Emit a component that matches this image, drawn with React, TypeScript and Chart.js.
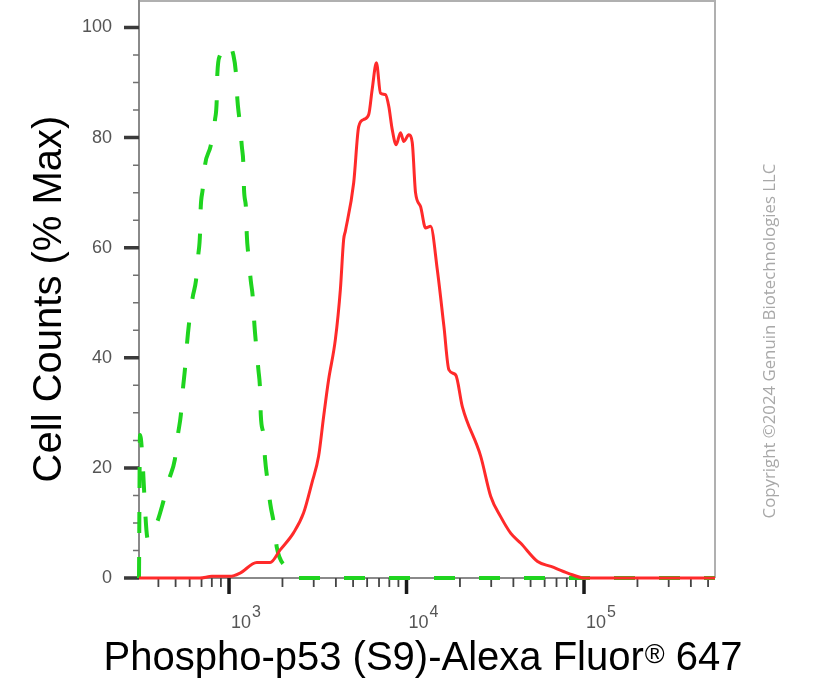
import React, { useEffect, useRef } from 'react';
import { Chart, registerables } from 'chart.js';

Chart.register(...registerables);

// ---- data ----
const redX = [311, 686, 800, 1013, 1154, 1434, 1705, 1941, 2308, 2629, 2932, 3196, 3411, 3639, 3972, 4239, 4424, 4523, 5039, 5377, 5739, 6124, 6401, 6768, 7131, 7611, 7943, 8304, 8746, 9250, 9655, 10304, 10770, 11240, 11995, 12802, 13665, 14910, 16246, 17338, 18915, 20640, 26185, 29826, 33960, 38700, 44060, 54750, 65100, 80900, 100400, 547000];
const redY = [0, 0, 0.3, 0.3, 0.9, 2.8, 2.8, 5.1, 8.2, 11.8, 17.3, 22.1, 29.3, 36, 43.3, 52.4, 61.5, 63, 71.8, 82, 83.3, 84.2, 88.7, 93.6, 88.1, 87.8, 85.7, 81.5, 78.7, 80.9, 79.3, 80.5, 79.1, 70, 67.5, 63.6, 63.9, 56, 45.7, 37.8, 36.9, 31.1, 22.1, 14.8, 11.1, 8.1, 6.3, 3, 2.1, 0.9, 0, 0];

const greenX = [311, 315, 349, 392, 424, 458, 495, 515, 535, 550, 564, 579, 594, 624, 651, 671, 686, 692, 710, 732, 788, 834, 852, 859, 890, 975, 1058, 1095, 1114, 1144, 1180, 1205, 1215, 1247, 1259, 1285, 1326, 1361, 1390, 1420, 1464, 1496, 1510, 1563, 1597, 1646, 1705, 1796, 1860, 2099, 2270, 547000];
const greenY = [0, 26, 7, 10, 13.6, 17.8, 21.5, 26, 29.6, 34.4, 37.8, 42.4, 46, 51, 54, 58.7, 62.4, 67, 70.5, 75, 78.5, 83.3, 86.6, 91.5, 95, 97, 95, 91.5, 87, 83.3, 78.5, 75, 70.5, 67, 62.4, 58.7, 54, 51, 46, 42.4, 37.8, 34.2, 29.6, 26, 21.5, 17.8, 13.6, 9.6, 5.5, 1.8, 0, 0];

// ---- axes ----
const X_MIN = 311;
const X_MAX = 547000;
const Y_MIN = 0;
const Y_MAX = 105;
const yMajorTicks = [0, 20, 40, 60, 80, 100];
const yMinorTicks = [5, 10, 15, 25, 30, 35, 45, 50, 55, 65, 70, 75, 85, 90, 95];
const xMajorTicks = [1000, 10000, 100000];
const xMajorBase = ['10', '10', '10'];
const xMajorExp = ['3', '4', '5'];
const xMinorTicks = [400, 500, 600, 700, 800, 900, 2000, 3000, 4000, 5000, 6000, 7000, 8000, 9000, 20000, 30000, 40000, 50000, 60000, 70000, 80000, 90000, 200000, 300000, 400000, 500000];

// ---- texts ----
const xTitleMain = 'Phospho-p53 (S9)-Alexa Fluor';
const xTitleMark = '®';
const xTitleEnd = ' 647';
const yTitle = 'Cell Counts (% Max)';
const copyrightText = 'Copyright ©2024 Genuin Biotechnologies LLC';

const FONT = '"Liberation Sans", Arial, Helvetica, sans-serif';

const decorPlugin = {
  id: 'flowDecor',
  beforeDatasetsDraw(chart: any) {
    const { ctx, chartArea: a } = chart;
    const xs = chart.scales.x;
    const ys = chart.scales.y;
    ctx.save();
    ctx.lineCap = 'butt';
    // frame top & right
    ctx.strokeStyle = '#b0b0b0';
    ctx.lineWidth = 2;
    ctx.beginPath();
    ctx.moveTo(a.left, a.top + 1);
    ctx.lineTo(a.right, a.top + 1);
    ctx.moveTo(a.right, a.top);
    ctx.lineTo(a.right, a.bottom);
    ctx.stroke();
    // axis lines
    ctx.strokeStyle = '#8a8a8a';
    ctx.beginPath();
    ctx.moveTo(a.left, a.top);
    ctx.lineTo(a.left, a.bottom);
    ctx.lineTo(a.right, a.bottom);
    ctx.stroke();
    // y ticks
    ctx.strokeStyle = '#707070';
    ctx.lineWidth = 1.5;
    ctx.beginPath();
    yMinorTicks.forEach((v) => {
      const p = ys.getPixelForValue(v);
      ctx.moveTo(a.left - 6, p);
      ctx.lineTo(a.left, p);
    });
    ctx.stroke();
    ctx.strokeStyle = '#3a3a3a';
    ctx.lineWidth = 3.5;
    ctx.beginPath();
    yMajorTicks.forEach((v) => {
      const p = ys.getPixelForValue(v);
      ctx.moveTo(a.left - 15, p);
      ctx.lineTo(a.left, p);
    });
    ctx.stroke();
    // x ticks
    ctx.strokeStyle = '#444';
    ctx.lineWidth = 1.8;
    ctx.beginPath();
    xMinorTicks.forEach((v) => {
      const p = xs.getPixelForValue(v);
      ctx.moveTo(p, a.bottom);
      ctx.lineTo(p, a.bottom + 9);
    });
    ctx.stroke();
    ctx.strokeStyle = '#1a1a1a';
    ctx.lineWidth = 3.5;
    ctx.beginPath();
    xMajorTicks.forEach((v) => {
      const p = xs.getPixelForValue(v);
      ctx.moveTo(p, a.bottom);
      ctx.lineTo(p, a.bottom + 16);
    });
    ctx.stroke();
    ctx.restore();
  },
  afterDraw(chart: any) {
    const { ctx, chartArea: a } = chart;
    const xs = chart.scales.x;
    ctx.save();
    // x tick labels 10^n
    ctx.fillStyle = '#555';
    ctx.textAlign = 'left';
    ctx.textBaseline = 'alphabetic';
    xMajorTicks.forEach((v, i) => {
      const p = xs.getPixelForValue(v) + 2;
      ctx.font = `18px ${FONT}`;
      ctx.fillText(xMajorBase[i], p, a.bottom + 50);
      const w = ctx.measureText(xMajorBase[i]).width;
      ctx.font = `16px ${FONT}`;
      ctx.fillText(xMajorExp[i], p + w + 1, a.bottom + 39);
    });
    // x title
    ctx.fillStyle = '#000';
    const big = `40px ${FONT}`;
    const small = `27px ${FONT}`;
    ctx.font = big;
    const w1 = ctx.measureText(xTitleMain).width;
    const w3 = ctx.measureText(xTitleEnd).width;
    ctx.font = small;
    const w2 = ctx.measureText(xTitleMark).width;
    const total = w1 + w2 + 1 + w3;
    let sx = 423 - total / 2;
    const base = a.bottom + 92;
    ctx.font = big;
    ctx.fillText(xTitleMain, sx, base);
    sx += w1 + 1;
    ctx.font = small;
    ctx.fillText(xTitleMark, sx, base - 7);
    sx += w2;
    ctx.font = big;
    ctx.fillText(xTitleEnd, sx, base);
    // y title
    ctx.save();
    ctx.translate(61, 299);
    ctx.rotate(-Math.PI / 2);
    ctx.textAlign = 'center';
    ctx.font = `40px ${FONT}`;
    ctx.fillText(yTitle, 0, 0);
    ctx.restore();
    // copyright
    ctx.save();
    ctx.translate(775, 341);
    ctx.rotate(-Math.PI / 2);
    ctx.textAlign = 'center';
    ctx.fillStyle = '#a8a8a8';
    ctx.font = `16.8px "Open Sans", "Noto Sans", sans-serif`;
    ctx.fillText(copyrightText, 0, 0);
    ctx.restore();
    ctx.restore();
  },
};

export default function App() {
  const ref = useRef<HTMLCanvasElement | null>(null);
  useEffect(() => {
    if (!ref.current) return;
    const chart = new Chart(ref.current, {
      type: 'scatter',
      data: {
        datasets: [
          {
            label: 'Phospho-p53 (S9)',
            data: redX.map((x, i) => ({ x, y: redY[i] })),
            showLine: true,
            borderColor: '#ff2a2a',
            backgroundColor: '#ff2a2a',
            borderWidth: 3,
            pointRadius: 0,
            cubicInterpolationMode: 'monotone',
            clip: false,
          } as any,
          {
            label: 'Isotype control',
            data: greenX.map((x, i) => ({ x, y: greenY[i] })),
            showLine: true,
            borderColor: '#1fd41f',
            backgroundColor: '#1fd41f',
            borderWidth: 4,
            borderDash: [21, 24],
            pointRadius: 0,
            cubicInterpolationMode: 'monotone',
            clip: false,
          } as any,
        ],
      },
      options: {
        animation: false,
        responsive: false,
        devicePixelRatio: 1,
        layout: { autoPadding: false, padding: { top: 0, right: 105, bottom: 0, left: 0 } },
        plugins: { legend: { display: false }, tooltip: { enabled: false } },
        scales: {
          x: {
            type: 'logarithmic',
            min: X_MIN,
            max: X_MAX,
            grid: { display: false, drawTicks: false },
            border: { display: false },
            ticks: { display: false },
            afterFit: (s: any) => {
              s.height = 107;
              s.paddingLeft = 0;
              s.paddingRight = 0;
            },
          },
          y: {
            type: 'linear',
            min: Y_MIN,
            max: Y_MAX,
            grid: { display: false, drawTicks: false },
            border: { display: false },
            afterBuildTicks: (s: any) => {
              s.ticks = yMajorTicks.map((v) => ({ value: v }));
            },
            ticks: {
              padding: 27,
              color: '#555',
              font: { family: FONT, size: 18 },
              callback: (v: any) => String(v),
            },
            afterFit: (s: any) => {
              s.width = 139;
              s.paddingTop = 0;
              s.paddingBottom = 0;
            },
          },
        },
      } as any,
      plugins: [decorPlugin],
    });
    return () => chart.destroy();
  }, []);
  return (
    <canvas
      ref={ref}
      width={820}
      height={685}
      style={{ position: 'absolute', left: 0, top: 0, display: 'block' }}
    />
  );
}
